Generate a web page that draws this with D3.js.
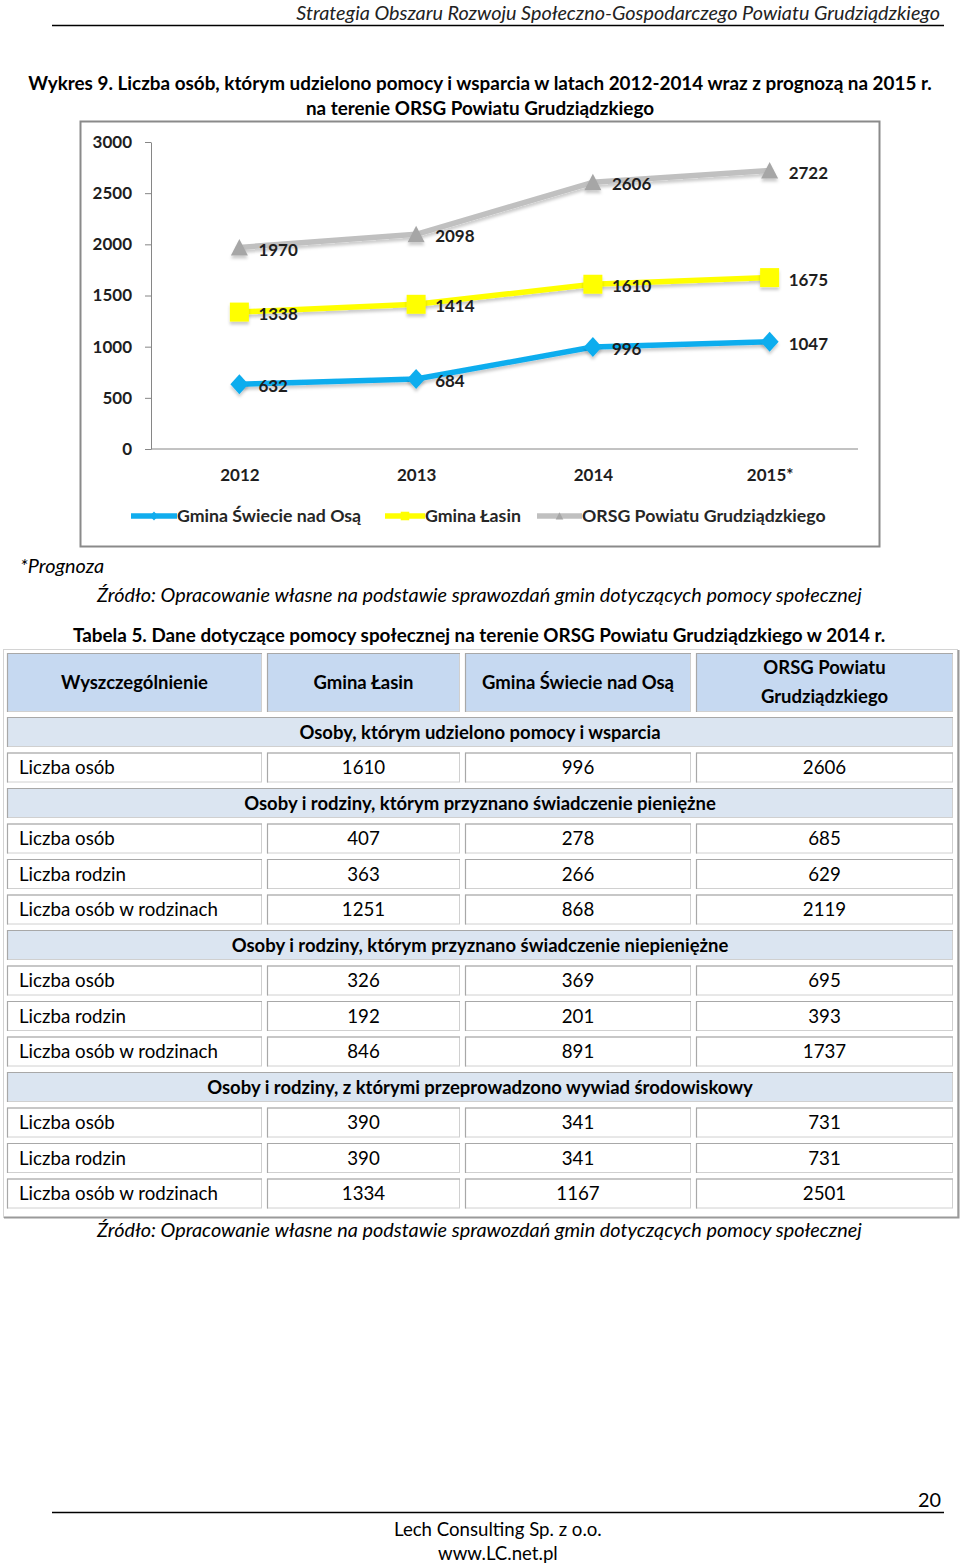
<!DOCTYPE html>
<html><head><meta charset="utf-8">
<script src="https://cdn.jsdelivr.net/npm/d3@7/dist/d3.min.js"></script>
<style>body{margin:0;background:#fff}svg{display:block}</style>
</head><body>
<script>
// ---------- DATA ----------
const years = ["2012", "2013", "2014", "2015*"];
const swiecieSeries = [632, 684, 996, 1047];
const lasinSeries = [1338, 1414, 1610, 1675];
const orsgSeries = [1970, 2098, 2606, 2722];
const seriesNames = ["Gmina Świecie nad Osą", "Gmina Łasin", "ORSG Powiatu Grudziądzkiego"];
const yTicks = [0, 500, 1000, 1500, 2000, 2500, 3000];

const tableHeaders = ["Wyszczególnienie", "Gmina Łasin", "Gmina Świecie nad Osą", "ORSG Powiatu|Grudziądzkiego"];
const sectionTitles = [
  "Osoby, którym udzielono pomocy i wsparcia",
  "Osoby i rodziny, którym przyznano świadczenie pieniężne",
  "Osoby i rodziny, którym przyznano świadczenie niepieniężne",
  "Osoby i rodziny, z którymi przeprowadzono wywiad środowiskowy"
];
const rowLabels = [
  ["Liczba osób"],
  ["Liczba osób", "Liczba rodzin", "Liczba osób w rodzinach"],
  ["Liczba osób", "Liczba rodzin", "Liczba osób w rodzinach"],
  ["Liczba osób", "Liczba rodzin", "Liczba osób w rodzinach"]
];
const lasinTable = [[1610], [407, 363, 1251], [326, 192, 846], [390, 390, 1334]];
const swiecieTable = [[996], [278, 266, 868], [369, 201, 891], [341, 341, 1167]];
const orsgTable = [[2606], [685, 629, 2119], [695, 393, 1737], [731, 731, 2501]];

const headerText = "Strategia Obszaru Rozwoju Społeczno-Gospodarczego Powiatu Grudziądzkiego";
const chartTitle1 = "Wykres 9. Liczba osób, którym udzielono pomocy i wsparcia w latach 2012-2014 wraz z prognozą na 2015 r.";
const chartTitle2 = "na terenie ORSG Powiatu Grudziądzkiego";
const noteText = "*Prognoza";
const sourceText = "Źródło: Opracowanie własne na podstawie sprawozdań gmin dotyczących pomocy społecznej";
const tableTitle = "Tabela 5. Dane dotyczące pomocy społecznej na terenie ORSG Powiatu Grudziądzkiego w 2014 r.";
const pageNo = "20";
const footer1 = "Lech Consulting Sp. z o.o.";
const footer2 = "www.LC.net.pl";

// ---------- SETUP ----------
const FONT = "Lato, 'Open Sans', sans-serif";
const svg = d3.select("body").append("svg").attr("width", 960).attr("height", 1565)
  .style("font-family", FONT);

function txt(g, x, y, s, o = {}) {
  const t = g.append("text").attr("x", x).attr("y", y).text(s)
    .attr("font-size", o.size || 18)
    .attr("font-weight", o.weight || "normal")
    .attr("font-style", o.style || "normal")
    .attr("text-anchor", o.anchor || "start")
    .attr("fill", o.fill || "#000")
    .attr("dy", "0.36em");
  return t;
}
function fit(t, w) {
  const cur = +t.attr("font-size");
  const m = t.node().getComputedTextLength();
  const fs = cur * w / m;
  t.attr("font-size", fs);
  return fs;
}

// ---------- PAGE TEXT ----------
const page = svg.append("g");
fit(txt(page, 940, 13, headerText, {style: "italic", anchor: "end", fill: "#222"}), 644);
page.append("line").attr("x1", 52).attr("x2", 944).attr("y1", 25.5).attr("y2", 25.5).attr("stroke", "#000").attr("stroke-width", 1.3);
const tfs = fit(txt(page, 480, 83, chartTitle1, {weight: "bold", anchor: "middle"}), 904);
txt(page, 480, 108, chartTitle2, {weight: "bold", anchor: "middle", size: tfs});
const ifs = fit(txt(page, 97, 595, sourceText, {style: "italic"}), 765);
txt(page, 20, 566, noteText, {style: "italic", size: ifs});
fit(txt(page, 73, 635, tableTitle, {weight: "bold"}), 813);
txt(page, 97, 1230, sourceText, {style: "italic", size: ifs});
txt(page, 941, 1500, pageNo, {anchor: "end", size: ifs});
page.append("line").attr("x1", 52).attr("x2", 944).attr("y1", 1512.5).attr("y2", 1512.5).attr("stroke", "#000").attr("stroke-width", 1.3);
const ffs = fit(txt(page, 394, 1529, footer1, {}), 208);
txt(page, 438, 1553, footer2, {size: ffs});

// ---------- CHART ----------
const defs = svg.append("defs");
const f = defs.append("filter").attr("id", "sh").attr("x", "-50%").attr("y", "-50%").attr("width", "200%").attr("height", "200%");
f.append("feDropShadow").attr("dx", 0).attr("dy", 3).attr("stdDeviation", 1.8).attr("flood-color", "#000").attr("flood-opacity", 0.2);

const chart = svg.append("g");
chart.append("rect").attr("x", 80.5).attr("y", 121.5).attr("width", 799).attr("height", 425)
  .attr("fill", "#fff").attr("stroke", "#8a8a8a").attr("stroke-width", 2);

const x = d3.scalePoint().domain(years).range([151, 858]).padding(0.5);
const y = d3.scaleLinear().domain([0, 3000]).range([449, 142]);

const yAx = chart.append("g").attr("transform", "translate(151,0)")
  .call(d3.axisLeft(y).tickValues(yTicks).tickFormat(d3.format("d")).tickSize(6).tickSizeOuter(0).tickPadding(13));
yAx.select(".domain").attr("stroke", "#868686");
yAx.selectAll(".tick line").attr("stroke", "#868686");
yAx.selectAll("text").attr("font-family", FONT).attr("font-weight", "bold").attr("fill", "#1e1e1e").attr("font-size", 17);

const xAx = chart.append("g").attr("transform", "translate(0,449)")
  .call(d3.axisBottom(x).tickSize(0).tickSizeOuter(0));
xAx.select(".domain").attr("stroke", "#868686").attr("d", "M151,0H858");
xAx.selectAll("text").attr("font-family", FONT).attr("font-weight", "bold").attr("fill", "#1e1e1e")
  .attr("font-size", 17).attr("y", 26).attr("dy", "0.36em");

const series = [
  {name: seriesNames[0], vals: swiecieSeries, color: "#11adee", mk: "#11adee", shape: "diamond"},
  {name: seriesNames[1], vals: lasinSeries, color: "#ffff00", mk: "#ffff00", shape: "square"},
  {name: seriesNames[2], vals: orsgSeries, color: "#c0c0c0", mk: "#a6a6a6", shape: "triangle"}
];
const shapes = {
  diamond: s => `M0,${-10*s}L${9*s},0L0,${10*s}L${-9*s},0Z`,
  square: s => `M${-9.5*s},${-9.5*s}h${19*s}v${19*s}h${-19*s}Z`,
  triangle: s => `M0,${-8.5*s}L${8.5*s},${8*s}L${-8.5*s},${8*s}Z`
};
const line = d3.line().x((d, i) => x(years[i])).y(d => y(d));

const sg = chart.selectAll("g.series").data(series.slice().reverse()).join("g").attr("class", "series");
sg.append("path").attr("d", d => line(d.vals)).attr("fill", "none")
  .attr("stroke", d => d.color).attr("stroke-width", 5.5).attr("stroke-linejoin", "round").attr("filter", "url(#sh)");
sg.selectAll("path.mk").data(d => d.vals.map((v, i) => ({v, i, s: d}))).join("path").attr("class", "mk")
  .attr("transform", d => `translate(${x(years[d.i])},${y(d.v)})`)
  .attr("d", d => shapes[d.s.shape](1)).attr("fill", d => d.s.mk).attr("filter", "url(#sh)");
sg.selectAll("text.lbl").data(d => d.vals.map((v, i) => ({v, i}))).join("text").attr("class", "lbl")
  .attr("x", d => x(years[d.i]) + 19).attr("y", d => y(d.v) + 2).attr("dy", "0.36em")
  .attr("font-weight", "bold").attr("font-size", 17).attr("fill", "#1e1e1e").text(d => d.v);

// legend
const legX = [131, 385, 537];
const legW = [46, 40, 45];
const legTargets = [188, 95, 241];
const lg = chart.selectAll("g.leg").data(series).join("g").attr("class", "leg")
  .attr("transform", (d, i) => `translate(${legX[i]},516)`);
lg.append("line").attr("x1", 0).attr("x2", (d, i) => legW[i]).attr("stroke", d => d.color).attr("stroke-width", 5.5);
lg.append("path").attr("transform", (d, i) => `translate(${legW[i] / 2},0)`).attr("d", d => shapes[d.shape](0.45)).attr("fill", d => d.mk);
const legT = lg.append("text").attr("x", (d, i) => legW[i]).attr("dy", "0.36em").attr("font-size", 16)
  .attr("font-weight", "bold").attr("fill", "#262626").text(d => d.name);
let lfs = 0;
legT.each(function (d, i) { lfs += 16 * legTargets[i] / this.getComputedTextLength(); });
legT.attr("font-size", lfs / 3);

// ---------- TABLE ----------
const tb = svg.append("g");
const cols = [[7, 262], [267, 460], [465, 691], [696, 953]];
tb.append("rect").attr("x", 3.5).attr("y", 649.5).attr("width", 954).attr("height", 568)
  .attr("fill", "#fff").attr("stroke", "#d4d4d4");
tb.append("path").attr("d", "M4,1217.5H958.5V650").attr("fill", "none").attr("stroke", "#9a9a9a").attr("stroke-width", 2);

function cell(x0, x1, y0, h, fill) {
  tb.append("rect").attr("x", x0 + 0.5).attr("y", y0 + 0.5).attr("width", x1 - x0 - 1).attr("height", h - 1)
    .attr("fill", fill).attr("stroke", "#d0d0d0");
  tb.append("path").attr("d", `M${x0 + 0.5},${y0 + h}V${y0 + 0.5}H${x1}`).attr("fill", "none").attr("stroke", "#a8a8a8").attr("stroke-width", 1.2);
}

const probe = txt(tb, 19, -100, "Liczba osób w rodzinach", {size: 18});
const bodyFs = fit(probe, 199); probe.remove();
const probe2 = txt(tb, 19, -100, "Wyszczególnienie", {size: 18, weight: "bold"});
const headFs = fit(probe2, 147); probe2.remove();

tableHeaders.forEach((h, i) => {
  cell(cols[i][0], cols[i][1], 653, 59, "#c6d9f1");
  const cx = (cols[i][0] + cols[i][1]) / 2;
  const parts = h.split("|");
  if (parts.length === 1) txt(tb, cx, 682, h, {weight: "bold", anchor: "middle", size: headFs});
  else parts.forEach((p, k) => txt(tb, cx, 667 + k * 29, p, {weight: "bold", anchor: "middle", size: headFs}));
});

const rows = [];
sectionTitles.forEach((s, si) => {
  rows.push({type: "section", text: s});
  rowLabels[si].forEach((l, ri) => rows.push({type: "data", label: l,
    vals: [lasinTable[si][ri], swiecieTable[si][ri], orsgTable[si][ri]]}));
});
const pitch = 35.5, top0 = 717;
rows.forEach((r, k) => {
  const y0 = top0 + k * pitch;
  const cy = y0 + 15;
  if (r.type === "section") {
    cell(7, 953, y0, 30, "#dbe5f1");
    txt(tb, 480, cy, r.text, {weight: "bold", anchor: "middle", size: headFs});
  } else {
    cols.forEach(c => cell(c[0], c[1], y0, 30, "#fff"));
    txt(tb, 19, cy, r.label, {size: bodyFs});
    r.vals.forEach((v, j) => txt(tb, (cols[j + 1][0] + cols[j + 1][1]) / 2, cy, v, {anchor: "middle", size: bodyFs}));
  }
});
</script>
</body></html>
